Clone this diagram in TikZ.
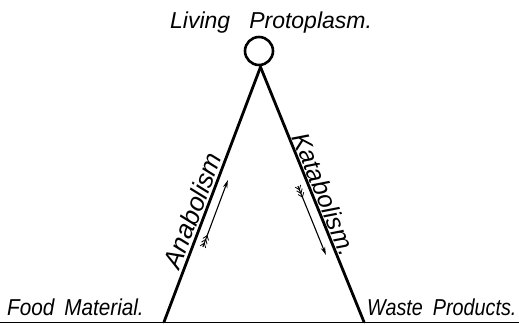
\documentclass[tikz,border=0pt]{standalone}
\usepackage{fontspec}
\setmainfont{Liberation Sans}
\newfontfamily\condA[FakeStretch=0.9]{Liberation Sans}
\newfontfamily\condB[FakeStretch=0.86]{Liberation Sans}
\usetikzlibrary{arrows.meta}
\tikzset{
  lbl/.style={font=\fontsize{#1}{#1}\selectfont\itshape, inner sep=0pt},
  side/.style={line width=2.8pt, line cap=round},
  flow/.style={line width=1.1pt, -{Stealth[length=8pt,width=4.5pt]}},
  feather/.style={line width=0.8pt},
}
\begin{document}
\begin{tikzpicture}[x=1pt,y=1pt]
\useasboundingbox (0,0) rectangle (519,325);
% ground line
\coordinate (g0) at (0,3);
\coordinate (g1) at (519,3);
\draw[line width=0.9pt] (g0) -- (g1);
% protoplasm circle
\node[draw, circle, line width=2.6pt, minimum size=28pt, inner sep=0pt] (proto) at (259,274) {};
\coordinate (apex) at (260.5,258);
\coordinate (fb) at (164,3);
\coordinate (wb) at (364,3);
\draw[side] (fb) -- node[sloped, above=2pt, pos=0.42, lbl=26] {Anabolism} (apex);
\draw[side] (apex) -- node[sloped, above=1pt, pos=0.516, lbl=25] {Katabolism.} (wb);
% labels
\node[lbl=23, anchor=base west] (top) at (170,297) {Living\hspace{19pt}Protoplasm.};
\node[lbl=23, anchor=base west] (food) at (7,10) {\condA Food\hspace{10pt}Material.};
\node[lbl=23, anchor=base west] (waste) at (367,10) {\condB Waste\hspace{10pt}Products.};
% anabolism arrow
\coordinate (at) at (202.9,78.1);
\coordinate (ah) at (227.9,144.9);
\draw[flow] (at) -- (ah);
\begin{scope}[shift={(at)}, rotate=69.5]
  \foreach \d in {0,4,8} {
    \draw[feather] (\d+4,0) -- (\d,3) (\d+4,0) -- (\d,-3);
  }
\end{scope}
% katabolism arrow
\coordinate (kt) at (297.9,139.0);
\coordinate (kh) at (325.9,70.1);
\draw[flow] (kt) -- (kh);
\begin{scope}[shift={(kt)}, rotate=-67.9]
  \foreach \d in {0,4,8} {
    \draw[feather] (\d+4,0) -- (\d,3) (\d+4,0) -- (\d,-3);
  }
\end{scope}
\end{tikzpicture}
\end{document}
